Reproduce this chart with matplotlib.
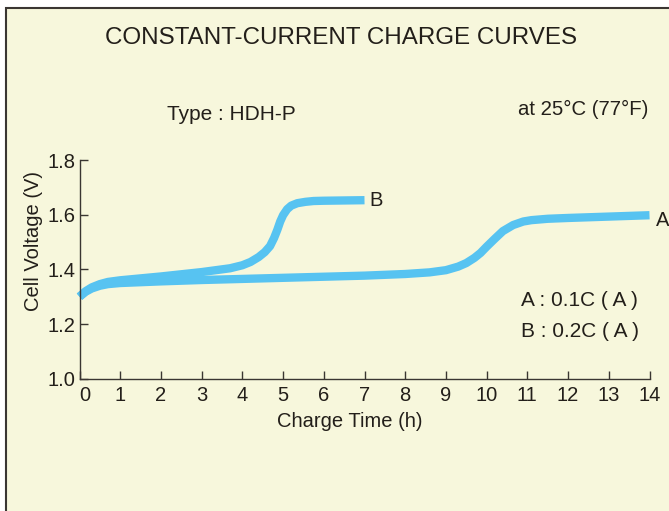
import matplotlib
matplotlib.use("Agg")
import matplotlib.pyplot as plt
from matplotlib.patches import Rectangle
from matplotlib.transforms import ScaledTranslation

plt.rcParams["font.family"] = ["Liberation Sans", "DejaVu Sans"]

# curve A: 0.1C
time_a = [0, 0.15, 0.3, 0.5, 0.7, 1, 2, 3, 4, 5, 6, 7, 8, 8.6, 9.0, 9.3, 9.5,
          9.7, 9.85, 10.0, 10.2, 10.4, 10.65, 10.9, 11.1, 11.5, 12, 13, 14]
volt_a = [1.300, 1.318, 1.330, 1.340, 1.346, 1.350, 1.356, 1.361, 1.365, 1.369,
          1.373, 1.377, 1.383, 1.389, 1.397, 1.410, 1.423, 1.442, 1.460, 1.483,
          1.512, 1.540, 1.562, 1.575, 1.580, 1.585, 1.588, 1.593, 1.598]

# curve B: 0.2C
time_b = [0, 0.15, 0.3, 0.5, 0.7, 1, 2, 3, 3.7, 4.0, 4.2, 4.4, 4.55, 4.68, 4.78,
          4.86, 4.93, 5.0, 5.1, 5.2, 5.35, 5.55, 5.75, 6.0, 6.5, 7.0]
volt_b = [1.300, 1.320, 1.334, 1.346, 1.354, 1.360, 1.374, 1.390, 1.404, 1.415,
          1.427, 1.445, 1.463, 1.485, 1.515, 1.545, 1.575, 1.598, 1.620, 1.633,
          1.642, 1.647, 1.650, 1.651, 1.652, 1.653]

x_ticks = list(range(0, 15))
y_ticks = [1.0, 1.2, 1.4, 1.6, 1.8]

LINE_COLOR = "#57c3f1"
TEXT_COLOR = "#231f1a"
BG = "#f7f7dc"
FS = 14.5

fig = plt.figure(figsize=(6.69, 5.11), dpi=100, facecolor="white")
fig.patches.append(Rectangle((6 / 669, -0.1), 1.2, 1 - 8 / 511 + 0.1,
                             transform=fig.transFigure, facecolor=BG,
                             edgecolor="#3a3632", linewidth=1.5, zorder=-10))

ax = fig.add_axes([79.5 / 669, 1 - 378.7 / 511, 570 / 669, 218.7 / 511])
ax.set_facecolor("none")
ax.plot(time_a, volt_a, color=LINE_COLOR, lw=6, solid_capstyle="butt",
        solid_joinstyle="round", clip_on=False)
ax.plot(time_b, volt_b, color=LINE_COLOR, lw=6, solid_capstyle="butt",
        solid_joinstyle="round", clip_on=False)

ax.set_xlim(0, 14)
ax.set_ylim(1.0, 1.8)
ax.set_xticks(x_ticks)
ax.set_yticks(y_ticks)
ax.set_yticklabels([f"{v:.1f}" for v in y_ticks])
ax.tick_params(direction="in", length=6, width=1, color="#3a3632",
               labelsize=FS, labelcolor=TEXT_COLOR, pad=3)
ax.tick_params(axis="x", pad=5)
# first x label sits a little right of its tick in the original
lbl0 = ax.get_xticklabels()[0]
lbl0.set_transform(lbl0.get_transform() + ScaledTranslation(5 / 100, 0, fig.dpi_scale_trans))
for side in ("top", "right"):
    ax.spines[side].set_visible(False)
for side in ("left", "bottom"):
    ax.spines[side].set_color("#3a3632")
    ax.spines[side].set_linewidth(1)

ax.set_xlabel("Charge Time (h)", fontsize=FS, color=TEXT_COLOR, labelpad=6)
ax.set_ylabel("Cell Voltage (V)", fontsize=FS, color=TEXT_COLOR, labelpad=3)
ax.xaxis.set_label_coords(0.474, -0.15)
ax.yaxis.label.set_position((0, 0.63))

ax.text(time_b[-1] + 0.12, volt_b[-1], "B", fontsize=FS, color=TEXT_COLOR,
        va="center", ha="left")
ax.text(time_a[-1] + 0.15, volt_a[-1] - 0.02, "A", fontsize=FS, color=TEXT_COLOR,
        va="center", ha="left", clip_on=False)

fig.text(341 / 669, 1 - 38 / 511, "CONSTANT-CURRENT CHARGE CURVES",
         fontsize=17.4, color=TEXT_COLOR, ha="center", va="center")
fig.text(231 / 669, 1 - 114 / 511, "Type : HDH-P", fontsize=15,
         color=TEXT_COLOR, ha="center", va="center")
fig.text(583 / 669, 1 - 109 / 511, "at 25°C (77°F)", fontsize=14.7,
         color=TEXT_COLOR, ha="center", va="center")
fig.text(521 / 669, 1 - 300 / 511, "A : 0.1C ( A )", fontsize=15,
         color=TEXT_COLOR, ha="left", va="center")
fig.text(521 / 669, 1 - 331 / 511, "B : 0.2C ( A )", fontsize=15,
         color=TEXT_COLOR, ha="left", va="center")

fig.savefig("out.png", dpi=100, facecolor=fig.get_facecolor())
